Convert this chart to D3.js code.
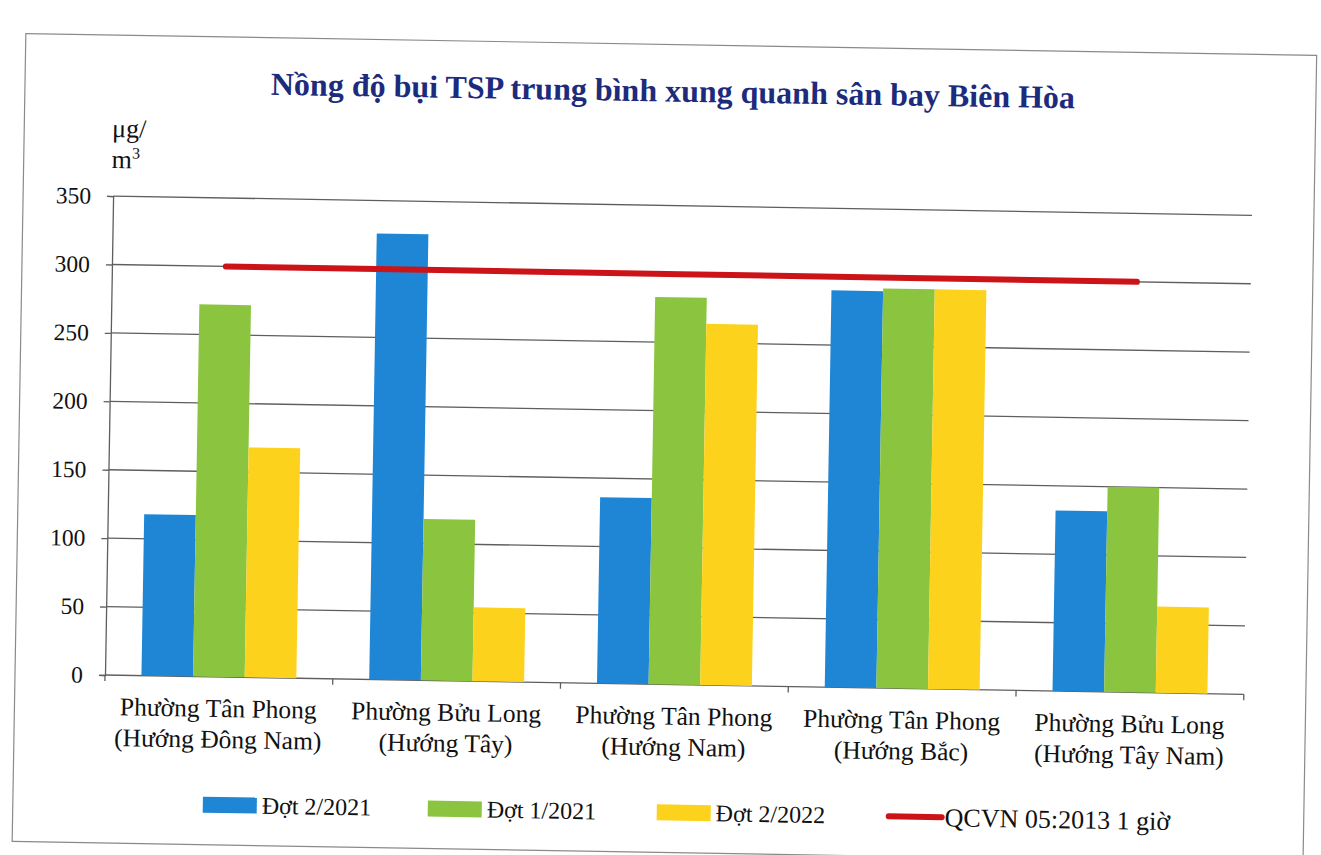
<!DOCTYPE html>
<html>
<head>
<meta charset="utf-8">
<script src="https://cdn.jsdelivr.net/npm/d3@7"></script>
<style>
  body { margin: 0; background: #fff; }
  svg { display: block; font-family: "Liberation Serif", "Times New Roman", serif; }
</style>
</head>
<body>
<svg></svg>
<script>
'use strict';

const width = 1321, height = 855;

// data
const places = ["Phường Tân Phong", "Phường Bửu Long", "Phường Tân Phong", "Phường Tân Phong", "Phường Bửu Long"];
const directions = ["(Hướng Đông Nam)", "(Hướng Tây)", "(Hướng Nam)", "(Hướng Bắc)", "(Hướng Tây Nam)"];
const seriesNames = ["Đợt 2/2021", "Đợt 1/2021", "Đợt 2/2022"];
const dot2of2021 = [118, 326, 136, 290, 132];
const dot1of2021 = [272, 118, 283, 292, 150];
const dot2of2022 = [168, 54, 264, 292, 63];
const limitName = "QCVN 05:2013 1 giờ";
const limitValues = [300, 300, 300, 300, 300];
const yTicks = [0, 50, 100, 150, 200, 250, 300, 350];
const colors = ["#1f86d6", "#8bc53f", "#fdd21c"];
const limitColor = "#cc1418";

const series = [dot2of2021, dot1of2021, dot2of2022];

const plotLeft = 105, plotRight = 1244, plotBottom = 675, plotTop = 196;

let svg = d3.select("svg")
  .attr("width", width)
  .attr("height", height)
  .attr("viewBox", [0, 0, width, height]);

svg.append("rect")
  .attr("width", width).attr("height", height)
  .attr("fill", "#fff");

// the scan is tilted by about one degree
let g = svg.append("g")
  .attr("transform", `rotate(0.97, ${plotLeft}, ${plotBottom})`);

g.append("rect")
  .attr("x", 15).attr("y", 35)
  .attr("width", 1291).attr("height", 808)
  .attr("fill", "none")
  .attr("stroke", "#8a8a8a")
  .attr("stroke-width", 1.2);

let x = d3.scaleBand()
  .domain(d3.range(places.length))
  .range([plotLeft, plotRight])
  .paddingInner(0.32)
  .paddingOuter(0.16);

let xs = d3.scaleBand()
  .domain(d3.range(series.length))
  .range([0, x.bandwidth()]);

let y = d3.scaleLinear()
  .domain([0, 350])
  .range([plotBottom, plotTop]);

// grid
g.append("g")
  .attr("class", "grid")
  .attr("stroke", "#5e5e5e")
  .attr("stroke-width", 1.3)
  .selectAll("line")
  .data(yTicks)
  .join("line")
    .attr("x1", plotLeft)
    .attr("x2", plotRight)
    .attr("y1", d => y(d))
    .attr("y2", d => y(d));

// y axis
let yAxis = g.append("g")
  .attr("transform", `translate(${plotLeft},0)`)
  .call(d3.axisLeft(y).tickValues(yTicks).tickSize(6).tickPadding(16));
yAxis.select(".domain").attr("stroke", "#5e5e5e").attr("stroke-width", 1.3);
yAxis.selectAll(".tick line").attr("stroke", "#5e5e5e").attr("stroke-width", 1.3);
yAxis.selectAll(".tick text")
  .attr("font-family", "Liberation Serif, serif")
  .attr("font-size", 23.5)
  .attr("fill", "#111");

// unit label
let unit = g.append("text")
  .attr("font-size", 26)
  .attr("fill", "#111");
unit.append("tspan").attr("x", 103).attr("y", 137).text("μg/");
unit.append("tspan").attr("x", 103).attr("y", 168).text("m");
unit.append("tspan").attr("dy", -10).attr("font-size", 16).text("3");

// category boundary ticks
let step = x.step();
g.append("g")
  .attr("stroke", "#5e5e5e")
  .attr("stroke-width", 1.3)
  .selectAll("line")
  .data(d3.range(places.length + 1))
  .join("line")
    .attr("x1", i => plotLeft + i * step)
    .attr("x2", i => plotLeft + i * step)
    .attr("y1", plotBottom)
    .attr("y2", plotBottom + 6);

// bars
g.append("g")
  .selectAll("g")
  .data(series)
  .join("g")
    .attr("fill", (d, i) => colors[i])
  .selectAll("rect")
  .data((d, si) => d.map((v, ci) => ({ v, ci, si })))
  .join("rect")
    .attr("x", d => x(d.ci) + xs(d.si))
    .attr("y", d => y(d.v))
    .attr("width", xs.bandwidth())
    .attr("height", d => y(0) - y(d.v));

// limit line
let line = d3.line()
  .x((d, i) => x(i) + x.bandwidth() / 2)
  .y(d => y(d));

g.append("path")
  .datum(limitValues)
  .attr("d", line)
  .attr("fill", "none")
  .attr("stroke", limitColor)
  .attr("stroke-width", 6)
  .attr("stroke-linecap", "round");

// category labels
let labels = g.append("g")
  .attr("font-size", 25.5)
  .attr("fill", "#111")
  .attr("text-anchor", "middle")
  .selectAll("text")
  .data(places)
  .join("text");
labels.append("tspan")
  .attr("x", (d, i) => x(i) + x.bandwidth() / 2)
  .attr("y", 715)
  .text(d => d);
labels.append("tspan")
  .attr("x", (d, i) => x(i) + x.bandwidth() / 2)
  .attr("y", 746)
  .text((d, i) => directions[i]);

// title
g.append("text")
  .attr("x", 663)
  .attr("y", 92)
  .attr("text-anchor", "middle")
  .attr("font-size", 32)
  .attr("font-weight", "bold")
  .attr("fill", "#1d2b7c")
  .text("Nồng độ bụi TSP trung bình xung quanh sân bay Biên Hòa");

// legend
const legendX = [205, 430, 659];
const legendY = 803;
let legend = g.append("g")
  .attr("font-size", 24)
  .attr("fill", "#111");

legend.selectAll("rect")
  .data(seriesNames)
  .join("rect")
    .attr("x", (d, i) => legendX[i])
    .attr("y", legendY - 8)
    .attr("width", 54)
    .attr("height", 16)
    .attr("fill", (d, i) => colors[i]);

legend.selectAll("text.s")
  .data(seriesNames)
  .join("text")
    .attr("class", "s")
    .attr("x", (d, i) => legendX[i] + 59)
    .attr("y", legendY + 8)
    .text(d => d);

legend.append("line")
  .attr("x1", 891).attr("x2", 944)
  .attr("y1", legendY).attr("y2", legendY)
  .attr("stroke", limitColor)
  .attr("stroke-width", 6)
  .attr("stroke-linecap", "round");

legend.append("text")
  .attr("x", 947)
  .attr("y", legendY + 9)
  .attr("font-size", 26)
  .text(limitName);
</script>
</body>
</html>
